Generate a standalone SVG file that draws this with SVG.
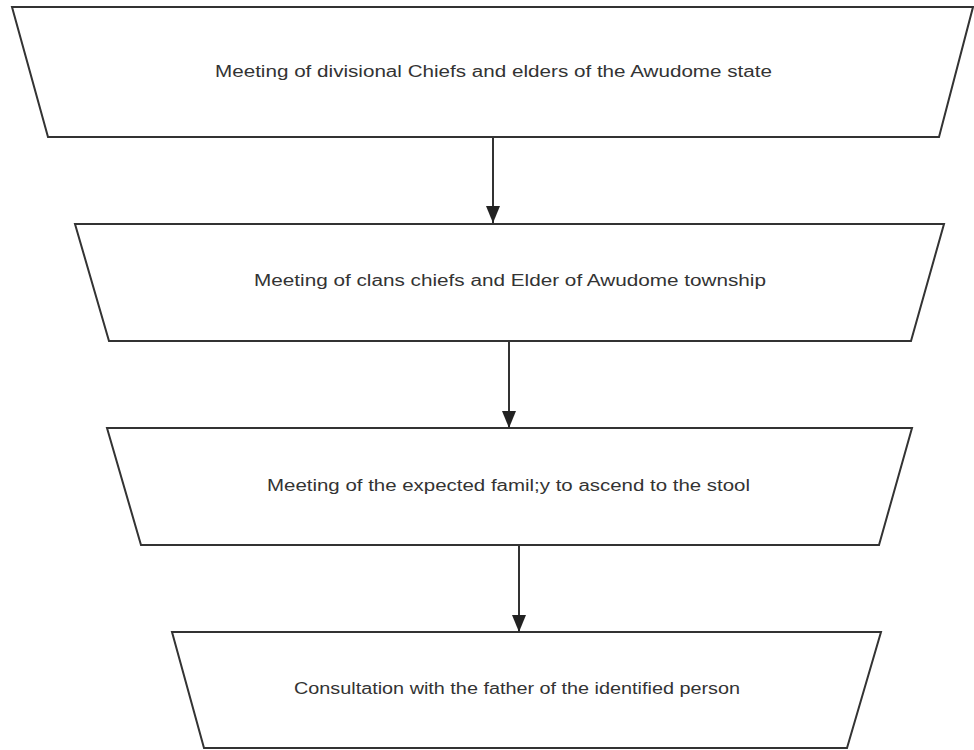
<svg xmlns="http://www.w3.org/2000/svg" width="974" height="750" viewBox="0 0 974 750">
  <style>
    .shape { fill: #ffffff; stroke: #333333; stroke-width: 2; stroke-linejoin: miter; }
    .label { font-family: "Liberation Sans", Arial, sans-serif; font-size: 16px; fill: #333333; }
    .edge { stroke: #333333; stroke-width: 2; fill: none; }
  </style>
  <defs>
    <!-- filled triangular arrowhead, tip at the end of the line -->
    <marker id="arrow" markerUnits="userSpaceOnUse" markerWidth="17" markerHeight="14" refX="17" refY="7" orient="auto" viewBox="0 0 17 14">
      <path d="M0,0 L17,7 L0,14 Z" fill="#222222"/>
    </marker>
  </defs>
  <rect width="974" height="750" fill="#ffffff"/>

  <g id="node-divisional">
    <polygon class="shape" points="12,7 973,7 939,137 48,137"/>
    <text class="label" x="215" y="77" textLength="557" lengthAdjust="spacingAndGlyphs">Meeting of divisional Chiefs and elders of the Awudome state</text>
  </g>

  <g id="node-clans">
    <polygon class="shape" points="75,224 944,224 911,341 109,341"/>
    <text class="label" x="254" y="286" textLength="512" lengthAdjust="spacingAndGlyphs">Meeting of clans chiefs and Elder of Awudome township</text>
  </g>

  <g id="node-family">
    <polygon class="shape" points="107,428 912,428 879,545 141,545"/>
    <text class="label" x="267" y="491" textLength="483" lengthAdjust="spacingAndGlyphs">Meeting of the expected famil;y to ascend to the stool</text>
  </g>

  <g id="node-father">
    <polygon class="shape" points="172,632 881,632 847,748 204,748"/>
    <text class="label" x="294" y="694" textLength="446" lengthAdjust="spacingAndGlyphs">Consultation with the father of the identified person</text>
  </g>

  <g id="connectors">
    <line class="edge" x1="493" y1="137" x2="493" y2="223" marker-end="url(#arrow)"/>
    <line class="edge" x1="509" y1="341" x2="509" y2="428" marker-end="url(#arrow)"/>
    <line class="edge" x1="519" y1="545" x2="519" y2="632" marker-end="url(#arrow)"/>
  </g>
</svg>
